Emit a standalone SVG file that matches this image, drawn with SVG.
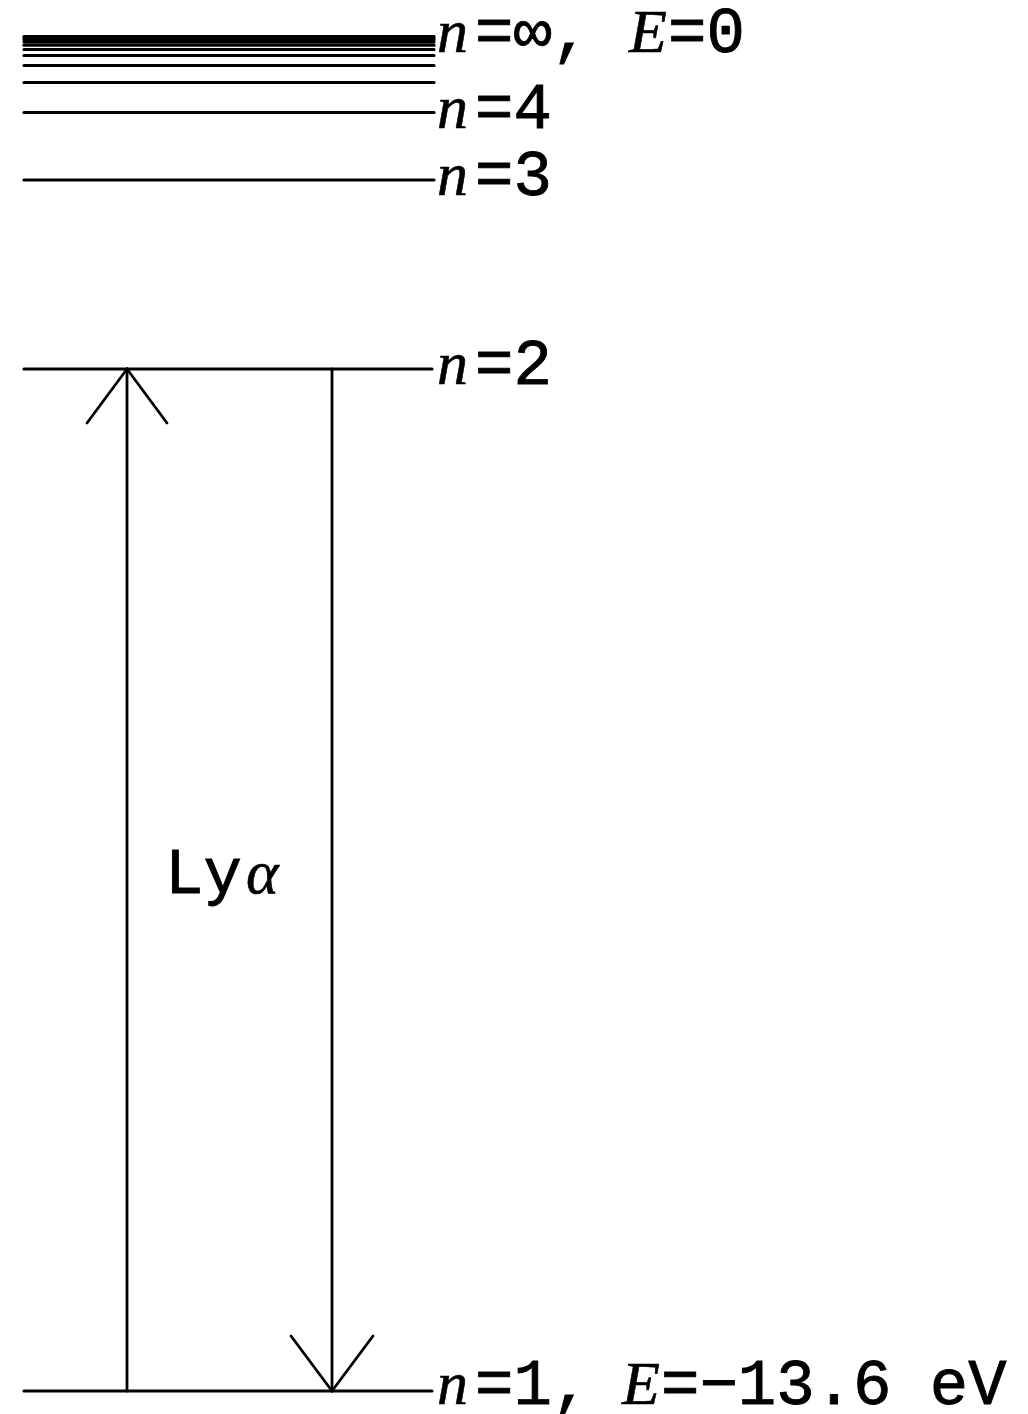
<svg xmlns="http://www.w3.org/2000/svg" width="1028" height="1414" viewBox="0 0 1028 1414">
<style>
.lvl{stroke:#000;stroke-width:3.2;fill:none;stroke-linecap:round}
.arr{stroke:#000;stroke-width:2.8;fill:none;stroke-linecap:round}
.t{font-family:"Liberation Mono","DejaVu Sans Mono",monospace;font-size:64px;fill:#000;stroke:#000;stroke-width:0.9}
.i{font-family:"Liberation Serif","DejaVu Serif",serif;font-style:italic;font-size:62px;fill:#000;stroke:#000;stroke-width:0.6}
</style>
<rect width="1028" height="1414" fill="#fff"/>
<g id="level-inf">
<line class="lvl" x1="24" y1="36.5" x2="434" y2="36.5"/>
<line class="lvl" x1="24" y1="38" x2="434" y2="38"/>
<line class="lvl" x1="24" y1="39.8" x2="434" y2="39.8"/>
<line class="lvl" x1="24" y1="42" x2="434" y2="42"/>
<line class="lvl" x1="24" y1="45.2" x2="434" y2="45.2"/>
<line class="lvl" x1="24" y1="49.5" x2="434" y2="49.5"/>
<line class="lvl" x1="24" y1="55.5" x2="434" y2="55.5"/>
<line class="lvl" x1="24" y1="65.5" x2="434" y2="65.5"/>
<line class="lvl" x1="24" y1="82.5" x2="434" y2="82.5"/>
<text class="i" x="437" y="52">n</text><text class="t" x="475" y="52">=∞,</text>
<text class="i" x="629" y="52">E</text><text class="t" x="668" y="52">=0</text>
</g>
<g id="level-4">
<line class="lvl" x1="24" y1="112.5" x2="434" y2="112.5"/>
<text class="i" x="437" y="128">n</text><text class="t" x="475" y="128">=4</text>
</g>
<g id="level-3">
<line class="lvl" x1="24" y1="180" x2="434" y2="180"/>
<text class="i" x="437" y="195">n</text><text class="t" x="475" y="195">=3</text>
</g>
<g id="level-2">
<line class="lvl" x1="24" y1="369" x2="432" y2="369"/>
<text class="i" x="437" y="384">n</text><text class="t" x="475" y="384">=2</text>
</g>
<g id="level-1">
<line class="lvl" x1="24" y1="1391" x2="432" y2="1391"/>
<text class="i" x="437" y="1404">n</text><text class="t" x="475" y="1404">=1,</text>
<text class="i" x="622" y="1404">E</text><text class="t" x="661" y="1404">=−13.6 eV</text>
</g>
<g id="connectors">
<line class="arr" x1="127" y1="1391" x2="127" y2="369"/>
<polyline class="arr" points="87,423 127,369 167,423"/>
<line class="arr" x1="332" y1="369" x2="332" y2="1391"/>
<polyline class="arr" points="291,1336 332,1391 373,1336"/>
</g>
<g id="label-lya">
<text class="t" x="165" y="893">Ly</text><text class="i" x="246" y="893">α</text>
</g>
</svg>
